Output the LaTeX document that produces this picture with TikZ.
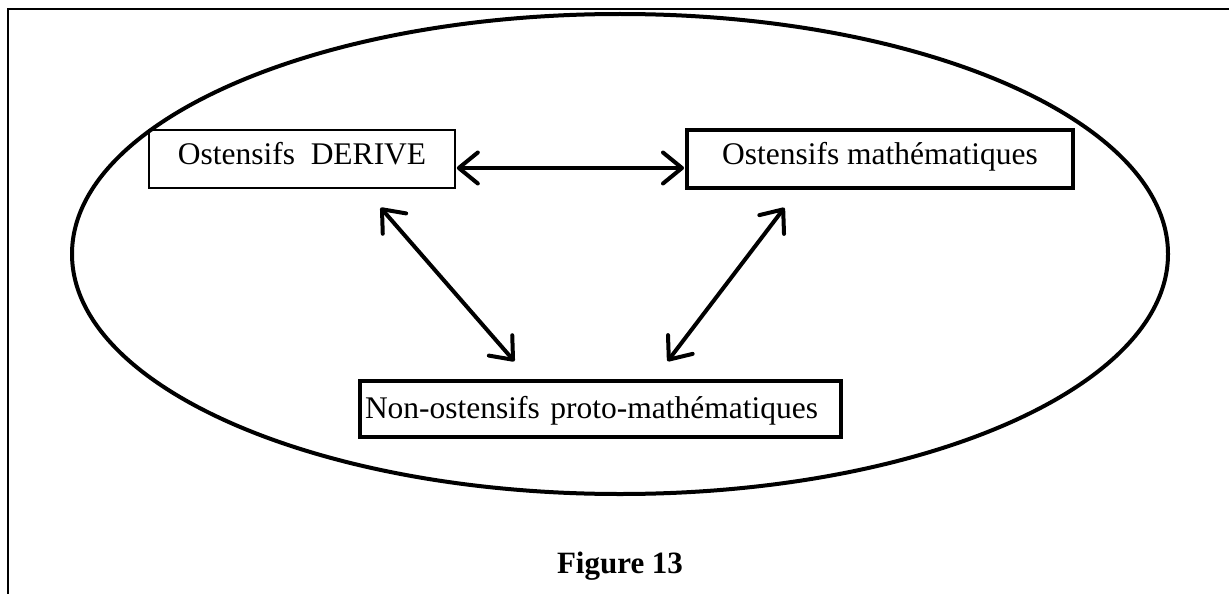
\documentclass[tikz,border=0pt]{standalone}
\usepackage{fontspec}
\setmainfont{Liberation Serif}
\usetikzlibrary{arrows.meta}
\tikzset{
  box/.style={draw, rectangle, inner sep=0pt, minimum height=58pt, font=\fontsize{31.5}{38}\selectfont, text height=22pt, text depth=12pt},
  dbl/.style={line width=4pt, {Straight Barb[length=19pt,width=31pt,round]}-{Straight Barb[length=19pt,width=31pt,round]}, shorten <=1pt, shorten >=1pt}
}
\begin{document}
\begin{tikzpicture}[x=1pt,y=-1pt]
\useasboundingbox (0,0) rectangle (1229,594);
% frame
\draw[line width=2pt] (8,594) -- (8,9) -- (1229,9);
% ellipse
\draw[line width=4pt] (620,254) ellipse [x radius=548pt, y radius=240pt];
% boxes
\node[box, line width=1.6pt, minimum width=306pt] (der) at (302,159) {Ostensifs\ \ DERIVE};
\node[box, line width=4pt, minimum width=386pt] (mat) at (880,159) {Ostensifs mathématiques};
\node[box, line width=4.5pt, minimum height=56pt, text width=471pt, inner xsep=5pt, align=left, text height=26pt, text depth=8pt] (non) at (600.5,409) {Non-ostensifs proto-mathématiques};
% caption
\node[anchor=base, font=\fontsize{31}{37}\selectfont\bfseries, inner sep=0pt] (cap) at (620,573) {Figure 13};
% arrow end points
\coordinate (a1) at (380,207);
\coordinate (a2) at (515,362);
\coordinate (b1) at (785,207);
\coordinate (b2) at (667,362);
% arrows
\draw[dbl] ([yshift=-9pt]der.east) -- ([yshift=-9pt]mat.west);
\draw[dbl] (a1) -- (a2);
\draw[dbl] (b1) -- (b2);
\end{tikzpicture}
\end{document}
